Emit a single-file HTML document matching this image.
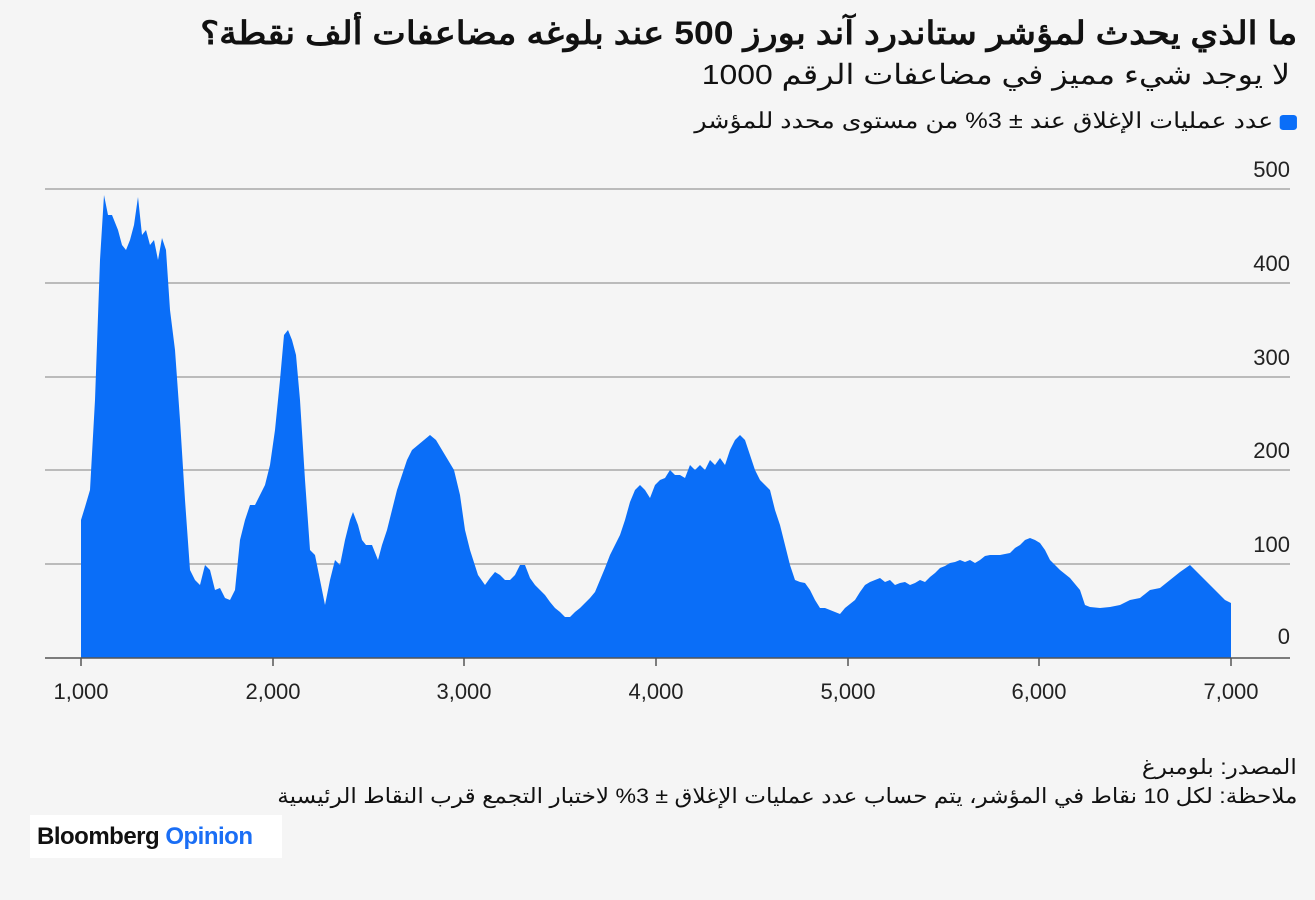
<!DOCTYPE html>
<html><head><meta charset="utf-8"><style>
body{margin:0;width:1315px;height:900px;background:#f5f5f5;font-family:"Liberation Sans","Noto Sans CJK SC",sans-serif;position:relative;overflow:hidden;color:#111}
.r{position:absolute;right:18px;direction:rtl;text-align:right;white-space:nowrap;transform-origin:right top}
</style></head><body>
<div class="r" style="top:14px;font-size:32px;font-weight:bold;transform:scaleX(1.11)">ما الذي يحدث لمؤشر ستاندرد آند بورز 500 عند بلوغه مضاعفات ألف نقطة؟</div>
<div class="r" style="top:58px;font-size:28px;right:25px;transform:scaleX(1.14)">لا يوجد شيء مميز في مضاعفات الرقم 1000</div>
<div class="r" style="top:108px;font-size:22px;transform:scaleX(1.15)"><span style="display:inline-block;width:15px;height:15px;background:#0a6ef8;border-radius:3px;margin-left:6px;vertical-align:-2px"></span>عدد عمليات الإغلاق عند ± 3% من مستوى محدد للمؤشر</div>
<svg width="1315" height="900" style="position:absolute;left:0;top:0">
<g stroke="#a8a8a8" stroke-width="1.5">
<line x1="45" x2="1290" y1="189" y2="189"/><line x1="45" x2="1290" y1="283" y2="283"/><line x1="45" x2="1290" y1="377" y2="377"/><line x1="45" x2="1290" y1="470" y2="470"/><line x1="45" x2="1290" y1="564" y2="564"/>
</g>
<path fill="#0a6ef8" d="M81,658 L81,520 85,507 90,490 95,400 100,260 104,195 108,215 112,215 118,230 122,245 126,250 130,240 134,225 138,197 142,235 146,230 150,245 154,240 158,260 162,238 166,250 170,310 175,350 180,420 185,500 190,570 195,580 200,585 205,565 210,570 215,590 220,588 225,598 230,600 235,590 240,540 245,520 250,505 255,505 260,495 265,485 270,465 275,430 280,380 284,335 288,330 292,340 296,355 300,400 305,480 310,550 315,555 320,580 325,605 330,580 335,560 340,565 345,540 350,520 353,512 358,525 362,540 366,545 372,545 378,560 382,545 387,530 392,510 397,490 402,475 407,460 412,450 418,445 424,440 430,435 436,440 442,450 448,460 454,470 460,495 465,530 470,550 478,575 485,585 490,578 495,572 500,575 505,580 510,580 515,575 520,565 525,565 530,578 535,585 540,590 545,595 550,602 555,608 560,612 565,617 570,617 575,612 580,608 585,603 590,598 595,592 600,580 605,568 610,555 615,545 620,535 625,520 630,502 635,490 640,485 645,490 650,498 655,485 660,480 665,478 670,470 675,475 680,475 685,478 690,465 695,470 700,465 705,470 710,460 715,465 720,458 725,465 730,450 735,440 740,435 745,440 750,455 755,470 760,480 765,485 770,490 775,510 780,525 785,545 790,565 795,580 800,582 805,583 810,590 815,600 820,608 825,608 830,610 835,612 840,614 845,608 850,604 855,600 860,592 865,585 870,582 875,580 880,578 885,582 890,580 895,585 900,583 905,582 910,585 915,583 920,580 925,582 930,577 935,573 940,568 945,566 950,563 955,562 960,560 965,562 970,560 975,563 980,560 985,556 990,555 1000,555 1010,553 1015,548 1020,545 1025,540 1030,538 1035,540 1040,543 1045,550 1050,560 1060,570 1070,578 1080,590 1085,605 1090,607 1100,608 1110,607 1120,605 1130,600 1140,598 1150,590 1160,588 1170,580 1180,572 1190,565 1200,575 1210,585 1220,595 1225,600 1231,603 1231,658 Z"/>
<line x1="45" x2="1290" y1="658" y2="658" stroke="#555" stroke-width="1.5"/>
<g stroke="#555" stroke-width="1.5">
<line x1="81" x2="81" y1="658" y2="666"/><line x1="273" x2="273" y1="658" y2="666"/><line x1="464" x2="464" y1="658" y2="666"/><line x1="656" x2="656" y1="658" y2="666"/><line x1="848" x2="848" y1="658" y2="666"/><line x1="1039" x2="1039" y1="658" y2="666"/><line x1="1231" x2="1231" y1="658" y2="666"/>
</g>
<g font-family="Liberation Sans,sans-serif" font-size="22" fill="#222" text-anchor="end">
<text x="1290" y="177">500</text><text x="1290" y="271">400</text><text x="1290" y="365">300</text><text x="1290" y="458">200</text><text x="1290" y="552">100</text><text x="1290" y="644">0</text>
</g>
<g font-family="Liberation Sans,sans-serif" font-size="22" fill="#222" text-anchor="middle">
<text x="81" y="699">1,000</text><text x="273" y="699">2,000</text><text x="464" y="699">3,000</text><text x="656" y="699">4,000</text><text x="848" y="699">5,000</text><text x="1039" y="699">6,000</text><text x="1231" y="699">7,000</text>
</g>
</svg>
<div class="r" style="top:755px;font-size:21px;transform:scaleX(1.1)">المصدر: بلومبرغ</div>
<div class="r" style="top:784px;font-size:21px;transform:scaleX(1.1)">ملاحظة: لكل 10 نقاط في المؤشر، يتم حساب عدد عمليات الإغلاق ± 3% لاختبار التجمع قرب النقاط الرئيسية</div>
<div style="position:absolute;left:30px;top:815px;width:252px;height:43px;background:#fff;font-size:24px;font-weight:bold;line-height:43px;padding-left:7px;box-sizing:border-box;letter-spacing:-0.5px">Bloomberg <span style="color:#1a6ef5">Opinion</span></div>
</body></html>
